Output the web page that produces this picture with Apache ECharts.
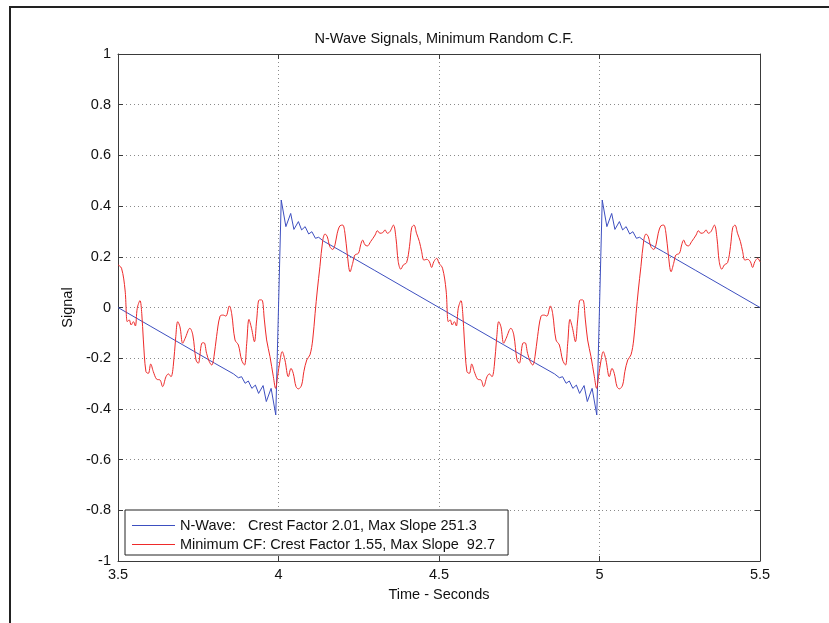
<!DOCTYPE html>
<html>
<head>
<meta charset="utf-8">
<title>N-Wave Signals</title>
<script src="https://cdn.jsdelivr.net/npm/echarts@6/dist/echarts.min.js"></script>
<style>
  html, body { margin: 0; padding: 0; background: #fff; }
  #chart { width: 829px; height: 623px; }
</style>
</head>
<body>
<div id="chart"></div>
<script>
// values, [time s, signal]
const nWave = [
  [3.5, 0], [3.6, -0.073], [3.7, -0.146], [3.8, -0.219], [3.86, -0.262],
  [3.875, -0.277], [3.885, -0.273], [3.896, -0.299], [3.906, -0.29], [3.917, -0.319],
  [3.928, -0.306], [3.938, -0.339], [3.952, -0.308], [3.962, -0.371], [3.977, -0.319],
  [3.9915, -0.424], [3.996, -0.2], [4.0, 0], [4.004, 0.2], [4.0085, 0.424],
  [4.023, 0.319], [4.038, 0.371], [4.048, 0.308], [4.062, 0.339], [4.072, 0.306],
  [4.083, 0.319], [4.094, 0.29], [4.104, 0.299], [4.115, 0.273], [4.125, 0.277],
  [4.14, 0.262], [4.2, 0.219], [4.3, 0.146], [4.4, 0.073],
  [4.5, 0], [4.6, -0.073], [4.7, -0.146], [4.8, -0.219], [4.86, -0.262],
  [4.875, -0.277], [4.885, -0.273], [4.896, -0.299], [4.906, -0.29], [4.917, -0.319],
  [4.928, -0.306], [4.938, -0.339], [4.952, -0.308], [4.962, -0.371], [4.977, -0.319],
  [4.9915, -0.424], [4.996, -0.2], [5.0, 0], [5.004, 0.2], [5.0085, 0.424],
  [5.023, 0.319], [5.038, 0.371], [5.048, 0.308], [5.062, 0.339], [5.072, 0.306],
  [5.083, 0.319], [5.094, 0.29], [5.104, 0.299], [5.115, 0.273], [5.125, 0.277],
  [5.14, 0.262], [5.2, 0.219], [5.3, 0.146], [5.4, 0.073], [5.5, 0]
]

const minCF = [
  [3.5, 0.168], [3.511, 0.155], [3.522, 0.069], [3.529, -0.056], [3.535, -0.049],
  [3.541, -0.069], [3.548, -0.056], [3.554, -0.073], [3.56, -0.003], [3.5685, 0.027],
  [3.574, -0.023], [3.579, -0.128], [3.587, -0.253], [3.5945, -0.26], [3.602, -0.223],
  [3.61, -0.253], [3.6205, -0.283], [3.631, -0.286], [3.639, -0.312], [3.6495, -0.273],
  [3.657, -0.262], [3.665, -0.273], [3.672, -0.233], [3.68, -0.115], [3.686, -0.056],
  [3.693, -0.076], [3.7015, -0.141], [3.709, -0.122], [3.724, -0.082], [3.733, -0.108],
  [3.743, -0.207], [3.75, -0.22], [3.761, -0.141], [3.768, -0.139], [3.776, -0.181],
  [3.7845, -0.214], [3.792, -0.227], [3.799, -0.194], [3.807, -0.115], [3.818, -0.034],
  [3.828, -0.03], [3.836, -0.034], [3.847, 0.006], [3.854, -0.023], [3.8645, -0.128],
  [3.875, -0.148], [3.885, -0.207], [3.894, -0.227], [3.901, -0.141], [3.908, -0.047],
  [3.916, -0.082], [3.925, -0.135], [3.932, -0.049], [3.94, 0.03], [3.948, 0.03],
  [3.956, -0.049], [3.963, -0.128], [3.9735, -0.194], [3.984, -0.273], [3.991, -0.319],
  [3.997, -0.273], [4.005, -0.207], [4.0115, -0.174], [4.02, -0.207], [4.0306, -0.273],
  [4.039, -0.24], [4.046, -0.26], [4.0545, -0.312], [4.062, -0.321], [4.072, -0.306],
  [4.079, -0.253], [4.088, -0.207], [4.098, -0.187], [4.1065, -0.128], [4.114, -0.023],
  [4.121, 0.069], [4.129, 0.161], [4.138, 0.266], [4.145, 0.29], [4.152, 0.279],
  [4.16, 0.24], [4.169, 0.229], [4.176, 0.247], [4.183, 0.293], [4.192, 0.323],
  [4.2, 0.325], [4.207, 0.293], [4.214, 0.214], [4.223, 0.141], [4.231, 0.174],
  [4.238, 0.207], [4.249, 0.214], [4.256, 0.247], [4.262, 0.266], [4.2695, 0.247],
  [4.277, 0.243], [4.287, 0.26], [4.301, 0.286], [4.308, 0.303], [4.316, 0.293],
  [4.3245, 0.295], [4.332, 0.306], [4.339, 0.293], [4.347, 0.299], [4.358, 0.325],
  [4.366, 0.273], [4.373, 0.181], [4.381, 0.151], [4.389, 0.168], [4.399, 0.177],
  [4.408, 0.24], [4.415, 0.315], [4.422, 0.325], [4.43, 0.293], [4.439, 0.26],
  [4.446, 0.22], [4.453, 0.187], [4.462, 0.19], [4.47, 0.181], [4.477, 0.158],
  [4.484, 0.181], [4.493, 0.194],
  [4.5, 0.175], [4.511, 0.155], [4.522, 0.069], [4.529, -0.056], [4.535, -0.049],
  [4.541, -0.069], [4.548, -0.056], [4.554, -0.073], [4.56, -0.003], [4.5685, 0.027],
  [4.574, -0.023], [4.579, -0.128], [4.587, -0.253], [4.5945, -0.26], [4.602, -0.223],
  [4.61, -0.253], [4.6205, -0.283], [4.631, -0.286], [4.639, -0.312], [4.6495, -0.273],
  [4.657, -0.262], [4.665, -0.273], [4.672, -0.233], [4.68, -0.115], [4.686, -0.056],
  [4.693, -0.076], [4.7015, -0.141], [4.709, -0.122], [4.724, -0.082], [4.733, -0.108],
  [4.743, -0.207], [4.75, -0.22], [4.761, -0.141], [4.768, -0.139], [4.776, -0.181],
  [4.7845, -0.214], [4.792, -0.227], [4.799, -0.194], [4.807, -0.115], [4.818, -0.034],
  [4.828, -0.03], [4.836, -0.034], [4.847, 0.006], [4.854, -0.023], [4.8645, -0.128],
  [4.875, -0.148], [4.885, -0.207], [4.894, -0.227], [4.901, -0.141], [4.908, -0.047],
  [4.916, -0.082], [4.925, -0.135], [4.932, -0.049], [4.94, 0.03], [4.948, 0.03],
  [4.956, -0.049], [4.963, -0.128], [4.9735, -0.194], [4.984, -0.273], [4.991, -0.319],
  [4.997, -0.273], [5.005, -0.207], [5.0115, -0.174], [5.02, -0.207], [5.0306, -0.273],
  [5.039, -0.24], [5.046, -0.26], [5.0545, -0.312], [5.062, -0.321], [5.072, -0.306],
  [5.079, -0.253], [5.088, -0.207], [5.098, -0.187], [5.1065, -0.128], [5.114, -0.023],
  [5.121, 0.069], [5.129, 0.161], [5.138, 0.266], [5.145, 0.29], [5.152, 0.279],
  [5.16, 0.24], [5.169, 0.229], [5.176, 0.247], [5.183, 0.293], [5.192, 0.323],
  [5.2, 0.325], [5.207, 0.293], [5.214, 0.214], [5.223, 0.141], [5.231, 0.174],
  [5.238, 0.207], [5.249, 0.214], [5.256, 0.247], [5.262, 0.266], [5.2695, 0.247],
  [5.277, 0.243], [5.287, 0.26], [5.301, 0.286], [5.308, 0.303], [5.316, 0.293],
  [5.3245, 0.295], [5.332, 0.306], [5.339, 0.293], [5.347, 0.299], [5.358, 0.325],
  [5.366, 0.273], [5.373, 0.181], [5.381, 0.151], [5.389, 0.168], [5.399, 0.177],
  [5.408, 0.24], [5.415, 0.315], [5.422, 0.325], [5.43, 0.293], [5.439, 0.26],
  [5.446, 0.22], [5.453, 0.187], [5.462, 0.19], [5.47, 0.181], [5.477, 0.158],
  [5.484, 0.181], [5.493, 0.194], [5.5, 0.18]
]

const seriesNames = [
  'N-Wave:   Crest Factor 2.01, Max Slope 251.3',
  'Minimum CF: Crest Factor 1.55, Max Slope  92.7'
]
const seriesColors = ['#3d4fc0', '#ee2a2a']

const FONT = 'Liberation Sans, Arial, Helvetica, sans-serif'
const FONT_SIZE = 14.5
const axisColor = '#3a3a3a'

function getChartOptions() {
  const baseX = {
    type: 'value',
    min: 3.5,
    max: 5.5,
    interval: 0.5
  }
  const baseY = {
    type: 'value',
    min: -1,
    max: 1,
    interval: 0.2
  }
  const tick = { show: true, inside: true, length: 5, lineStyle: { color: axisColor } }
  const line = { show: true, onZero: false, lineStyle: { color: axisColor, width: 1 } }
  const grid = { show: true, lineStyle: { color: '#8a8a8a', type: [1, 3], width: 1 } }
  const text = { fontFamily: FONT, fontSize: FONT_SIZE, color: '#111' }

  return {
    backgroundColor: '#fff',
    animation: false,
    title: {
      text: 'N-Wave Signals, Minimum Random C.F.',
      left: 439,
      top: 26,
      textAlign: 'center',
      textStyle: { ...text, fontWeight: 'normal' }
    },
    grid: {
      left: 118,
      top: 54,
      right: 69,
      bottom: 62
    },
    legend: {
      orient: 'vertical',
      left: 125,
      top: 510,
      icon: 'rect',
      itemWidth: 43,
      itemHeight: 1,
      itemGap: 4,
      padding: [8, 13, 3, 7],
      borderColor: '#222',
      borderWidth: 1,
      backgroundColor: '#fff',
      textStyle: text,
      data: seriesNames
    },
    xAxis: [
      {
        ...baseX,
        position: 'bottom',
        name: 'Time - Seconds',
        nameLocation: 'middle',
        nameGap: 26,
        nameTextStyle: text,
        axisLine: line,
        axisTick: tick,
        axisLabel: { ...text, margin: 6, formatter: (v) => String(v) },
        splitLine: grid
      },
      {
        ...baseX,
        position: 'top',
        axisLine: line,
        axisTick: tick,
        axisLabel: { show: false },
        splitLine: { show: false }
      }
    ],
    yAxis: [
      {
        ...baseY,
        position: 'left',
        name: 'Signal',
        nameLocation: 'middle',
        nameGap: 37,
        nameTextStyle: text,
        axisLine: line,
        axisTick: tick,
        axisLabel: { ...text, margin: 7, formatter: (v) => String(Math.round(v * 10) / 10) },
        splitLine: grid
      },
      {
        ...baseY,
        position: 'right',
        axisLine: line,
        axisTick: tick,
        axisLabel: { show: false },
        splitLine: { show: false }
      }
    ],
    series: [
      {
        name: seriesNames[0],
        type: 'line',
        data: nWave,
        symbol: 'none',
        lineStyle: { color: seriesColors[0], width: 1 },
        itemStyle: { color: seriesColors[0] }
      },
      {
        name: seriesNames[1],
        type: 'line',
        data: minCF,
        symbol: 'none',
        smooth: 0.35,
        lineStyle: { color: seriesColors[1], width: 1 },
        itemStyle: { color: seriesColors[1] }
      }
    ],
    graphic: [
      {
        // outer frame of the figure
        type: 'rect',
        z: -1,
        shape: { x: 10, y: 7, width: 900, height: 700 },
        style: { fill: 'none', stroke: '#222', lineWidth: 2 }
      }
    ]
  }
}

const chartInstance = echarts.init(document.getElementById('chart'), null, { renderer: 'canvas' })
chartInstance.setOption(getChartOptions())
</script>
</body>
</html>
